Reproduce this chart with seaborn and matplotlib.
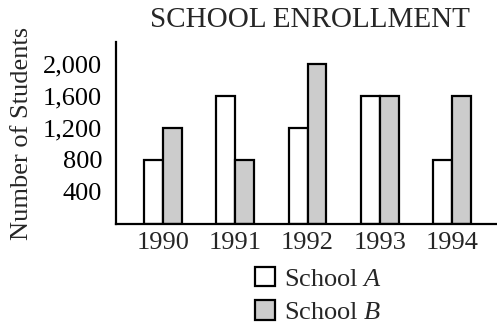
import matplotlib
matplotlib.use("Agg")
import matplotlib.pyplot as plt
import matplotlib.patches as mpatches
import matplotlib.ticker as mticker
import seaborn as sns
import pandas as pd

years = ["1990", "1991", "1992", "1993", "1994"]
school_a = [800, 1600, 1200, 1600, 800]
school_b = [1200, 800, 2000, 1600, 1600]
schools = ["School A", "School B"]
legend_labels = ["School $A$", "School $B$"]
y_ticks = [400, 800, 1200, 1600, 2000]

df = pd.DataFrame({
    "year": years * 2,
    "students": school_a + school_b,
    "school": [schools[0]] * len(years) + [schools[1]] * len(years),
})

sns.set_style("white")
plt.rcParams["font.family"] = ["Liberation Serif", "DejaVu Serif"]
plt.rcParams["mathtext.fontset"] = "custom"
plt.rcParams["mathtext.rm"] = "Liberation Serif"
plt.rcParams["mathtext.it"] = "Liberation Serif:italic"

fill_colors = ["white", "#cccccc"]
fs = 19

fig = plt.figure(figsize=(4.97, 3.27), dpi=100)
ax = fig.add_axes([0.2334, 0.315, 0.7666, 0.5566])

sns.barplot(data=df, x="year", y="students", hue="school",
            palette=fill_colors, edgecolor="black", linewidth=1.6,
            width=0.52, legend=False, ax=ax)

ax.set_xlim(-0.65, 4.62)
ax.set_ylim(0, 2275)
ax.set_yticks(y_ticks)
ax.yaxis.set_major_formatter(mticker.FuncFormatter(lambda v, p: f"{int(v):,}"))
ax.set_xlabel("")
ax.set_ylabel("Number of Students", fontsize=fs, labelpad=7)
ax.tick_params(axis="y", direction="inout", length=8, width=1.2,
               labelsize=fs, pad=6, colors="black")
ax.tick_params(axis="x", length=0, labelsize=fs, pad=6)

for side in ["top", "right"]:
    ax.spines[side].set_visible(False)
for side in ["left", "bottom"]:
    ax.spines[side].set_linewidth(1.6)
    ax.spines[side].set_color("black")

fig.text(0.623, 0.94, "SCHOOL ENROLLMENT", ha="center", va="center", fontsize=21)

handles = [mpatches.Patch(facecolor=c, edgecolor="black", linewidth=1.6) for c in fill_colors]
fig.legend(handles, legend_labels, loc="upper left", bbox_to_anchor=(0.514, 0.183),
           frameon=False, fontsize=fs, handlelength=0.75, handleheight=0.75,
           handletextpad=0.35, labelspacing=0.35, borderaxespad=0, borderpad=0)

fig.savefig("out.png", dpi=100)
